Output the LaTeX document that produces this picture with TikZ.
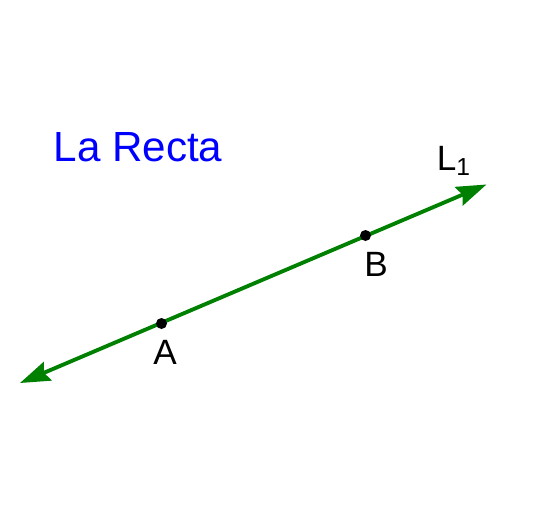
\documentclass[tikz,border=0pt]{standalone}
\usepackage{fontspec}
\setmainfont{Liberation Sans}
\usetikzlibrary{arrows.meta}
\definecolor{rectaverde}{RGB}{0,128,0}
\definecolor{rectaazul}{RGB}{0,0,255}

\begin{document}
\begin{tikzpicture}[
    punto/.style={circle,fill=black,inner sep=0pt,minimum size=0.22cm},
    etiqueta/.style={font=\fontsize{20}{24}\selectfont},
    recta/.style={rectaverde,line width=2.2pt,
        {Stealth[length=0.6cm,width=0.4cm,inset=0.08cm]}-{Stealth[length=0.6cm,width=0.4cm,inset=0.08cm]}}
]
        \useasboundingbox (0,0) rectangle (10.68,-10.16);

        % Extremos
        \coordinate (cola) at (0.40,-7.66);
        \coordinate (punta) at (9.73,-3.69);

        % Recta
        \draw[recta] (cola) -- (punta);

        % Puntos
        \node[punto] (A) at (3.23,-6.47) {};
        \node[punto] (B) at (7.31,-4.71) {};

        % Etiquetas
        \node[etiqueta] (lA) at (3.30,-7.04) {A};
        \node[etiqueta] (lB) at (7.52,-5.28) {B};
        \node[etiqueta] (lL) at (9.08,-3.22) {L\textsubscript{1}};
        \node[font=\fontsize{24}{28}\selectfont,text=rectaazul] (titulo) at (2.76,-2.94) {La Recta};
    \end{tikzpicture}
\end{document}
